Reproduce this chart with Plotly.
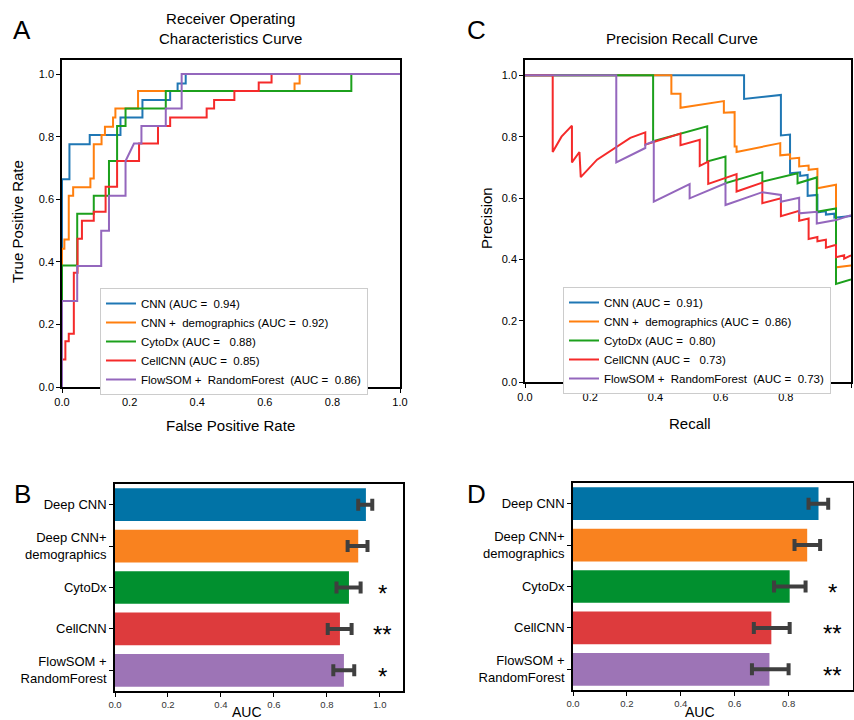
import plotly.graph_objects as go

FONT = "Liberation Sans, Arial, sans-serif"
W, H = 854, 720

# ---------------- ROC data (panel A) ----------------
roc_names = ["CNN (AUC =  0.94)", "CNN +  demographics (AUC =  0.92)", "CytoDx (AUC =   0.88)",
             "CellCNN (AUC =  0.85)", "FlowSOM +  RandomForest  (AUC =  0.86)"]
line_colors = ["#1f77b4", "#ff7f0e", "#1ca01c", "#f52a2a", "#9467bd"]

roc_cnn_fpr = [0, 0, 0.022, 0.022, 0.082, 0.082, 0.173, 0.173, 0.238, 0.238, 0.320, 0.320, 0.342, 0.342, 0.366, 0.366, 1.0]
roc_cnn_tpr = [0, 0.664, 0.664, 0.776, 0.776, 0.805, 0.805, 0.861, 0.861, 0.917, 0.917, 0.946, 0.946, 0.970, 0.970, 1.0, 1.0]

roc_demo_fpr = [0, 0, 0.007, 0.007, 0.020, 0.020, 0.033, 0.033, 0.084, 0.084, 0.094, 0.094, 0.117, 0.117, 0.127, 0.127, 0.151, 0.151, 0.158, 0.158, 0.225, 0.225, 0.688, 0.688, 0.703, 0.703, 1.0]
roc_demo_tpr = [0, 0.442, 0.442, 0.471, 0.471, 0.611, 0.611, 0.638, 0.638, 0.666, 0.666, 0.776, 0.776, 0.805, 0.805, 0.832, 0.832, 0.861, 0.861, 0.890, 0.890, 0.946, 0.946, 0.970, 0.970, 1.0, 1.0]

roc_cyto_fpr = [0, 0, 0.045, 0.045, 0.094, 0.094, 0.139, 0.139, 0.163, 0.163, 0.188, 0.188, 0.307, 0.307, 0.856, 0.856, 1.0]
roc_cyto_tpr = [0, 0.388, 0.388, 0.554, 0.554, 0.611, 0.611, 0.722, 0.722, 0.834, 0.834, 0.890, 0.890, 0.946, 0.946, 1.0, 1.0]

roc_cell_fpr = [0, 0, 0.010, 0.010, 0.020, 0.020, 0.035, 0.035, 0.046, 0.046, 0.059, 0.059, 0.094, 0.094, 0.129, 0.129, 0.163, 0.163, 0.228, 0.228, 0.284, 0.284, 0.320, 0.320, 0.428, 0.428, 0.450, 0.450, 0.510, 0.510, 0.582, 0.582, 0.620, 0.620, 1.0]
roc_cell_tpr = [0, 0.088, 0.088, 0.146, 0.146, 0.170, 0.170, 0.365, 0.365, 0.474, 0.474, 0.531, 0.531, 0.560, 0.560, 0.640, 0.640, 0.722, 0.722, 0.778, 0.778, 0.834, 0.834, 0.861, 0.861, 0.890, 0.890, 0.917, 0.917, 0.946, 0.946, 0.973, 0.973, 1.0, 1.0]

roc_flow_fpr = [0, 0, 0.045, 0.045, 0.116, 0.116, 0.139, 0.139, 0.188, 0.188, 0.213, 0.235, 0.235, 0.307, 0.307, 0.354, 0.354, 1.0]
roc_flow_tpr = [0, 0.275, 0.275, 0.387, 0.387, 0.499, 0.499, 0.611, 0.611, 0.722, 0.778, 0.778, 0.834, 0.834, 0.890, 0.890, 1.0, 1.0]

roc_fpr = [roc_cnn_fpr, roc_demo_fpr, roc_cyto_fpr, roc_cell_fpr, roc_flow_fpr]
roc_tpr = [roc_cnn_tpr, roc_demo_tpr, roc_cyto_tpr, roc_cell_tpr, roc_flow_tpr]

# ---------------- PR data (panel C) ----------------
pr_names = ["CNN (AUC =  0.91)", "CNN +  demographics (AUC =  0.86)", "CytoDx (AUC =  0.80)",
            "CellCNN (AUC =   0.73)", "FlowSOM +  RandomForest  (AUC =  0.73)"]

pr_cnn_rec = [0, 0.672, 0.672, 0.785, 0.785, 0.813, 0.813, 0.844, 0.844, 0.867, 0.867, 0.897, 0.897, 0.923, 0.923, 0.949, 0.949, 1.0]
pr_cnn_prec = [1.0, 1.0, 0.923, 0.936, 0.804, 0.807, 0.681, 0.684, 0.672, 0.675, 0.607, 0.610, 0.553, 0.557, 0.546, 0.549, 0.536, 0.541]

pr_demo_rec = [0, 0.449, 0.449, 0.477, 0.477, 0.610, 0.610, 0.643, 0.643, 0.649, 0.649, 0.783, 0.783, 0.813, 0.813, 0.841, 0.841, 0.870, 0.870, 0.897, 0.897, 0.954, 0.954, 1.0]
pr_demo_prec = [1.0, 1.0, 0.940, 0.940, 0.894, 0.916, 0.878, 0.880, 0.768, 0.768, 0.750, 0.779, 0.739, 0.742, 0.728, 0.731, 0.703, 0.706, 0.692, 0.695, 0.632, 0.643, 0.374, 0.380]

pr_cyto_rec = [0, 0.393, 0.393, 0.477, 0.559, 0.559, 0.615, 0.615, 0.728, 0.728, 0.836, 0.836, 0.895, 0.895, 0.954, 0.954, 1.0]
pr_cyto_prec = [1.0, 1.0, 0.785, 0.810, 0.834, 0.719, 0.735, 0.648, 0.684, 0.653, 0.681, 0.648, 0.667, 0.555, 0.566, 0.320, 0.334]

pr_cell_rec = [0, 0.085, 0.085, 0.112, 0.144, 0.144, 0.167, 0.171, 0.221, 0.282, 0.323, 0.369, 0.369, 0.477, 0.477, 0.536, 0.536, 0.562, 0.562, 0.649, 0.649, 0.728, 0.728, 0.785, 0.785, 0.841, 0.841, 0.870, 0.870, 0.897, 0.897, 0.923, 0.923, 0.949, 0.954, 0.954, 0.979, 0.979, 1.0]
pr_cell_prec = [1.0, 1.0, 0.750, 0.800, 0.836, 0.716, 0.750, 0.668, 0.725, 0.768, 0.796, 0.814, 0.774, 0.810, 0.772, 0.790, 0.705, 0.719, 0.646, 0.678, 0.621, 0.650, 0.583, 0.599, 0.541, 0.558, 0.526, 0.533, 0.466, 0.473, 0.459, 0.464, 0.438, 0.446, 0.446, 0.407, 0.413, 0.402, 0.413]

pr_flow_rec = [0, 0.280, 0.280, 0.369, 0.369, 0.395, 0.395, 0.505, 0.505, 0.615, 0.615, 0.728, 0.785, 0.785, 0.841, 0.841, 0.895, 0.895, 0.954, 1.0]
pr_flow_prec = [1.0, 1.0, 0.716, 0.763, 0.774, 0.785, 0.588, 0.645, 0.599, 0.648, 0.577, 0.619, 0.610, 0.588, 0.601, 0.550, 0.555, 0.517, 0.528, 0.544]

pr_rec = [pr_cnn_rec, pr_demo_rec, pr_cyto_rec, pr_cell_rec, pr_flow_rec]
pr_prec = [pr_cnn_prec, pr_demo_prec, pr_cyto_prec, pr_cell_prec, pr_flow_prec]

# ---------------- Bar data (panels B, D) ----------------
bar_labels = ["Deep CNN", "Deep CNN+<br>demographics", "CytoDx", "CellCNN", "FlowSOM +<br>RandomForest"]
bar_colors = ["#0173a6", "#f9821f", "#01902f", "#dd3b3d", "#9d74b6"]

roc_auc_mean = [0.947, 0.918, 0.883, 0.849, 0.864]
roc_auc_low = [0.918, 0.878, 0.836, 0.803, 0.824]
roc_auc_high = [0.971, 0.953, 0.927, 0.893, 0.903]
roc_sig = ["", "", "*", "**", "*"]

pr_auc_mean = [0.911, 0.869, 0.804, 0.736, 0.729]
pr_auc_low = [0.874, 0.822, 0.746, 0.671, 0.664]
pr_auc_high = [0.947, 0.917, 0.863, 0.804, 0.800]
pr_sig = ["", "", "*", "**", "**"]

fig = go.Figure()

for i in range(5):
    fig.add_trace(go.Scatter(x=roc_fpr[i], y=roc_tpr[i], mode="lines", name=roc_names[i],
                             line=dict(color=line_colors[i], width=2), xaxis="x", yaxis="y",
                             legend="legend"))
for i in range(5):
    fig.add_trace(go.Scatter(x=pr_rec[i], y=pr_prec[i], mode="lines", name=pr_names[i],
                             line=dict(color=line_colors[i], width=2), xaxis="x2", yaxis="y2",
                             legend="legend2"))

fig.add_trace(go.Bar(
    y=bar_labels, x=roc_auc_mean, orientation="h", marker=dict(color=bar_colors, line=dict(width=0)),
    error_x=dict(type="data", symmetric=False,
                 array=[h - m for h, m in zip(roc_auc_high, roc_auc_mean)],
                 arrayminus=[m - l for l, m in zip(roc_auc_low, roc_auc_mean)],
                 color="#3f3f3f", thickness=4, width=6),
    xaxis="x3", yaxis="y3", showlegend=False))
fig.add_trace(go.Bar(
    y=bar_labels, x=pr_auc_mean, orientation="h", marker=dict(color=bar_colors, line=dict(width=0)),
    error_x=dict(type="data", symmetric=False,
                 array=[h - m for h, m in zip(pr_auc_high, pr_auc_mean)],
                 arrayminus=[m - l for l, m in zip(pr_auc_low, pr_auc_mean)],
                 color="#3f3f3f", thickness=4, width=6),
    xaxis="x4", yaxis="y4", showlegend=False))


def px_x(p):
    return p / W


def px_y(p):
    return 1 - p / H


axis_common = dict(showline=True, mirror=True, linecolor="black", linewidth=1.6,
                   ticks="outside", ticklen=4, tickwidth=1.2, tickcolor="black",
                   showgrid=False, zeroline=False, automargin=False)

annotations = []


def txt(x, y, s, size, angle=0):
    annotations.append(dict(x=px_x(x), y=px_y(y), xref="paper", yref="paper", text=s,
                            showarrow=False, textangle=angle, xanchor="center", yanchor="middle",
                            font=dict(size=size, color="black", family=FONT)))


txt(22, 30, "A", 26)
txt(477, 30, "C", 26)
txt(22, 494, "B", 26)
txt(477, 494, "D", 26)
txt(230, 29, "Receiver Operating<br>Characteristics Curve", 15)
txt(682, 38, "Precision Recall Curve", 15)
txt(17, 222, "True Positive Rate", 15, angle=-90)
txt(230, 425, "False Positive Rate", 15)
txt(486, 218, "Precision", 15, angle=-90)
txt(690, 423, "Recall", 15)
txt(247, 712, "AUC", 14)
txt(700, 712, "AUC", 14)

for lab, s in zip(bar_labels, roc_sig):
    if s:
        annotations.append(dict(x=1.01, y=lab, xref="x3", yref="y3", text=s, showarrow=False,
                                yshift=-6, font=dict(size=24, color="black", family=FONT)))
for lab, s in zip(bar_labels, pr_sig):
    if s:
        annotations.append(dict(x=0.964, y=lab, xref="x4", yref="y4", text=s, showarrow=False,
                                yshift=-6, font=dict(size=24, color="black", family=FONT)))

tick_vals = [0, 0.2, 0.4, 0.6, 0.8, 1.0]
tick_text = ["0.0", "0.2", "0.4", "0.6", "0.8", "1.0"]

fig.update_layout(
    width=W, height=H, margin=dict(l=0, r=0, t=0, b=0, autoexpand=False),
    paper_bgcolor="white", plot_bgcolor="white",
    font=dict(family=FONT, color="black"),
    xaxis=dict(domain=[px_x(62), px_x(400)], range=[0, 1], tickvals=tick_vals, ticktext=tick_text,
               tickfont=dict(size=11), anchor="y", **axis_common),
    yaxis=dict(domain=[px_y(387), px_y(60)], range=[0, 1.045], tickvals=tick_vals, ticktext=tick_text,
               tickfont=dict(size=11), anchor="x", **axis_common),
    xaxis2=dict(domain=[px_x(525), px_x(851)], range=[0, 1], tickvals=tick_vals, ticktext=tick_text,
                tickfont=dict(size=11), anchor="y2", **axis_common),
    yaxis2=dict(domain=[px_y(382), px_y(60)], range=[0, 1.05], tickvals=tick_vals, ticktext=tick_text,
                tickfont=dict(size=11), anchor="x2", **axis_common),
    xaxis3=dict(domain=[px_x(115), px_x(403)], range=[0, 1.087], tickvals=tick_vals, ticktext=tick_text,
                tickfont=dict(size=9.5, color="#333333"), anchor="y3", **axis_common),
    yaxis3=dict(domain=[px_y(691), px_y(484)], autorange="reversed", tickfont=dict(size=13),
                anchor="x3", **axis_common),
    xaxis4=dict(domain=[px_x(573), px_x(853)], range=[0, 1.039], tickvals=tick_vals[:5], ticktext=tick_text[:5],
                tickfont=dict(size=9.5, color="#333333"), anchor="y4", **axis_common),
    yaxis4=dict(domain=[px_y(690), px_y(483)], autorange="reversed", tickfont=dict(size=13),
                anchor="x4", **axis_common),
    bargap=0.21,
    legend=dict(x=px_x(100), y=px_y(288), xanchor="left", yanchor="top", bgcolor="white",
                bordercolor="#cccccc", borderwidth=1, font=dict(size=11.5, family=FONT),
                itemwidth=30, tracegroupgap=0),
    legend2=dict(x=px_x(563), y=px_y(287), xanchor="left", yanchor="top", bgcolor="white",
                 bordercolor="#cccccc", borderwidth=1, font=dict(size=11.5, family=FONT),
                 itemwidth=30, tracegroupgap=0),
    annotations=annotations,
)

fig.write_html("out.html", config={"displayModeBar": False})

# remove the default page margin so the figure sits at the window's top-left corner
with open("out.html", encoding="utf-8") as f:
    page = f.read()
page = page.replace("<body>", '<body style="margin:0;padding:0;overflow:hidden">', 1)
page = page.replace("<head>", '<head><style>html,body{margin:0;padding:0;}</style>', 1)
with open("out.html", "w", encoding="utf-8") as f:
    f.write(page)
